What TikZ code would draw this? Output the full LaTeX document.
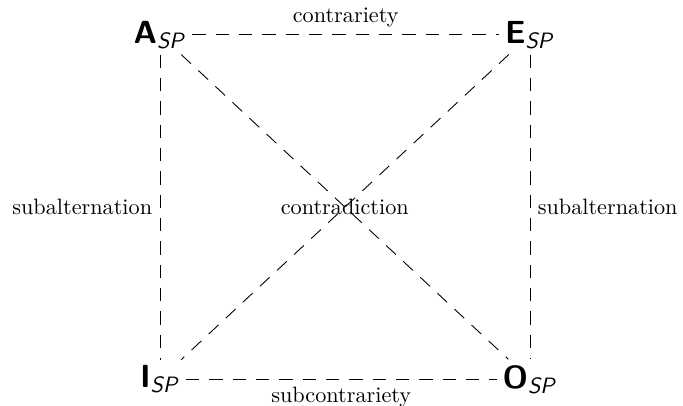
\documentclass[tikz,border=0pt]{standalone}
\usepackage{amsmath}
\usepackage{tikz}
\usetikzlibrary{positioning}

\begin{document}
\begin{tikzpicture}[
  corner/.style={font=\Large, inner sep=2.5pt},
  rel/.style={dash pattern=on 6pt off 4.5pt, thin},
  lbl/.style={font=\normalsize}
]
\useasboundingbox (-2.53,0.55) rectangle (8.27,-5.86);

\node[corner] (A) at (0,0) {$\textsf{\textbf{A}}_{\textsf{\textit{SP}}}$};
\node[corner] (E) at (5.85,0) {$\textsf{\textbf{E}}_{\textsf{\textit{SP}}}$};
\node[corner] (I) at (0,-5.45) {$\textsf{\textbf{I}}_{\textsf{\textit{SP}}}$};
\node[corner] (O) at (5.85,-5.45) {$\textsf{\textbf{O}}_{\textsf{\textit{SP}}}$};

\draw[rel] (A) -- node[lbl, above] {contrariety} (E);
\draw[rel] (I) -- node[lbl, below] {subcontrariety} (O);
\draw[rel] (A) -- node[lbl, left] {subalternation} (I);
\draw[rel] (E) -- node[lbl, right] {subalternation} (O);
\draw[rel] (A) -- node[lbl] {contradiction} (O);
\draw[rel] (E) -- (I);
\end{tikzpicture}
\end{document}
